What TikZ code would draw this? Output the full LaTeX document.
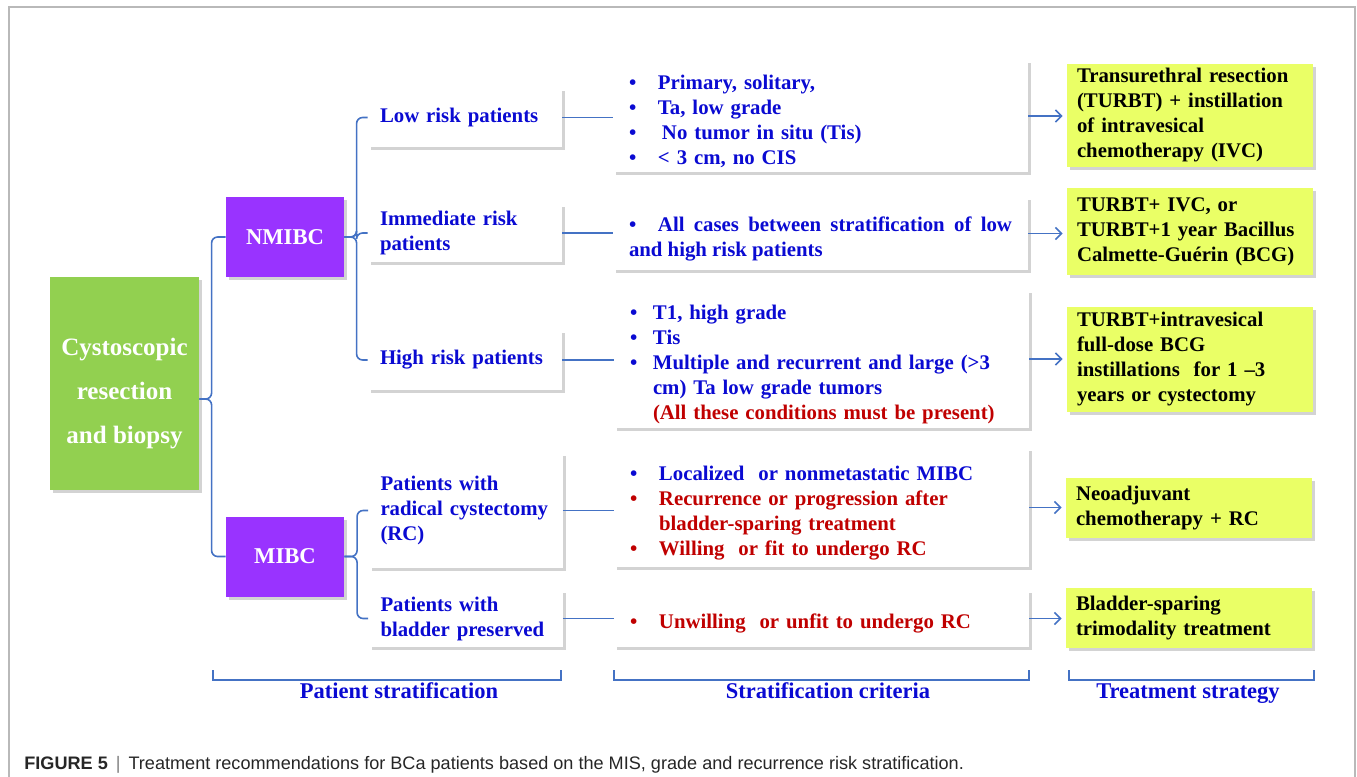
\documentclass[tikz,border=0pt]{standalone}
\usepackage{fontspec}
\setmainfont{Liberation Serif}
\newfontfamily\capfont{Liberation Sans}
\usetikzlibrary{arrows.meta,shadows}

\definecolor{rgreen}{RGB}{146,208,80}
\definecolor{rpurple}{RGB}{153,51,255}
\definecolor{ryellow}{RGB}{234,255,102}
\definecolor{tblue}{RGB}{10,10,210}
\definecolor{tred}{RGB}{192,0,0}
\definecolor{lblue}{RGB}{68,114,196}

% bullet line with hanging indent: [indent]{colour}{text}
\newcommand{\itm}[3][14.5pt]{\par\noindent\hangindent=#1\hangafter=1{\color{#2}\makebox[#1][l]{\textbullet}#3}}

\begin{document}
\begin{tikzpicture}[x=0.5pt,y=-0.5pt,
  every node/.style={font=\bfseries\fontsize{10.4}{12.5}\selectfont},
  boxshadow/.style={drop shadow={shadow xshift=1.5pt,shadow yshift=-1.5pt,opacity=0.35}},
  rootbox/.style={boxshadow,fill=rgreen,text=white,align=center,minimum width=74.5pt,minimum height=106.5pt,font=\bfseries\fontsize{12.5}{22}\selectfont},
  grpbox/.style={boxshadow,fill=rpurple,text=white,minimum width=59pt,minimum height=40pt,font=\bfseries\fontsize{11.3}{13}\selectfont},
  patbox/.style={boxshadow,fill=white,text=tblue,align=left,text width=85pt,inner xsep=6pt,inner ysep=2pt},
  critbox/.style={boxshadow,fill=white,align=left,text width=191.5pt,inner xsep=8pt,inner ysep=2pt},
  treatbox/.style={boxshadow,fill=ryellow,text=black,align=left,text width=113pt,inner xsep=5pt,inner ysep=2pt},
  brk/.style={draw=lblue,line width=0.8pt,rounded corners=3pt},
  lnk/.style={draw=lblue,line width=0.8pt},
  arr/.style={lnk,-{Straight Barb[length=3pt,width=6pt]},shorten >=2pt},
  lab/.style={text=tblue,font=\bfseries\fontsize{11.25}{13}\selectfont}]

\useasboundingbox (0,0) rectangle (1357,777);
\draw[gray!55,line width=0.6pt] (9,777) -- (9,7) -- (1355,7) -- (1355,777);

% first two levels
\node[rootbox] (root) at (124.5,383.5) {\rule{0pt}{19pt}Cystoscopic\\resection\\and biopsy};
\node[grpbox] (nmibc) at (285,237) {NMIBC};
\node[grpbox] (mibc) at (285,556.5) {MIBC};

% patient stratification
\node[patbox,minimum height=29.5pt] (low) at (465,117.5) {Low risk patients};
\node[patbox,minimum height=29pt] (imm) at (465,233) {Immediate risk\\patients};
\node[patbox,minimum height=30pt] (high) at (465,360) {High risk patients};
\node[patbox,minimum height=57.5pt] (rc) at (465.5,510.5) {Patients with\\radical cystectomy\\(RC)};
\node[patbox,minimum height=28.5pt] (bp) at (465.5,618.5) {Patients with\\bladder preserved};

% criteria
\node[critbox,minimum height=52pt] (clow) at (820.5,116) {\itm{tblue}{Primary, solitary,}\itm{tblue}{Ta, low grade}\itm{tblue}{\hspace{2pt}No tumor in situ (Tis)}\itm{tblue}{< 3 cm, no CIS}};
\node[critbox,minimum height=36.5pt,align=justify] (cimm) at (820.5,233.5) {\itm{tblue}{All cases between stratification of low and high risk patients}};
\node[critbox,minimum height=64pt] (chigh) at (821.5,359) {\itm[11.5pt]{tblue}{T1, high grade}\itm[11.5pt]{tblue}{Tis}\itm[11.5pt]{tblue}{Multiple and recurrent and large (>3\newline cm) Ta low grade tumors}\par\noindent\hspace*{11.5pt}\textcolor{tred}{(All these conditions must be present)}};
\node[critbox,minimum height=59.5pt] (crc) at (821.5,507.5) {\itm{tblue}{Localized\ \ or nonmetastatic MIBC}\itm{tred}{Recurrence or progression after\newline bladder-sparing treatment}\itm{tred}{Willing\ \ or fit to undergo RC}};
\node[critbox,minimum height=28.5pt] (cbp) at (821.5,618.5) {\itm{tred}{Unwilling\ \ or unfit to undergo RC}};

% treatment
\node[treatbox,minimum height=51.5pt] (tlow) at (1190,115.5) {Transurethral resection\\(TURBT) + instillation\\of intravesical\\chemotherapy (IVC)};
\node[treatbox,minimum height=43.5pt] (timm) at (1190,231.5) {TURBT+ IVC, or\\TURBT+1 year Bacillus\\Calmette-Guérin (BCG)};
\node[treatbox,minimum height=52.5pt] (thigh) at (1190,359.5) {TURBT+intravesical\\full-dose BCG\\instillations\ \ for 1 –3\\years or cystectomy};
\node[treatbox,minimum height=30pt] (trc) at (1189,508) {Neoadjuvant\\chemotherapy + RC};
\node[treatbox,minimum height=30pt] (tbp) at (1189,618) {Bladder-sparing\\trimodality treatment};

% brackets
\draw[brk] (nmibc.west) -- ++(-14,0) |- ([yshift=-7.75pt]root.east);
\draw[brk] (mibc.west) -- ++(-14,0) |- ([yshift=-7.75pt]root.east);
\draw[brk] (low.west) -- ++(-11,0) |- (nmibc.east);
\draw[brk] (imm.west) -- ++(-11,0) |- (nmibc.east);
\draw[brk] (high.west) -- ++(-11,0) |- (nmibc.east);
\draw[brk] (rc.west) -- ++(-11,0) |- (mibc.east);
\draw[brk] (bp.west) -- ++(-11,0) |- (mibc.east);

% links and arrows
\draw[lnk] (low.east) -- (clow.west |- low.east);
\draw[lnk] (imm.east) -- (cimm.west |- imm.east);
\draw[lnk] (high.east) -- (chigh.west |- high.east);
\draw[lnk] (rc.east) -- (crc.west |- rc.east);
\draw[lnk] (bp.east) -- (cbp.west |- bp.east);
\draw[arr] (clow.east) -- (tlow.west |- clow.east);
\draw[arr] (cimm.east) -- (timm.west |- cimm.east);
\draw[arr] (chigh.east) -- (thigh.west |- chigh.east);
\draw[arr] (crc.east) -- (trc.west |- crc.east);
\draw[arr] (cbp.east) -- (tbp.west |- cbp.east);

% column labels
\draw[lnk] (213,670) -- (213,680) -- (561,680) -- (561,670);
\draw[lnk] (614,670) -- (614,680) -- (1029,680) -- (1029,670);
\draw[lnk] (1069,670) -- (1069,680) -- (1314,680) -- (1314,670);
\node[lab,anchor=base] (labpat) at (399,698) {Patient stratification};
\node[lab,anchor=base] (labcrit) at (828,698) {Stratification criteria};
\node[lab,anchor=base] (labtreat) at (1188,698) {Treatment strategy};

\node[anchor=base west,inner sep=0pt,text=black!85,font=\capfont\fontsize{9.05}{11}\selectfont] (caption) at (24,769) {\textbf{FIGURE 5}\hspace{4pt}{\color{gray}|}\hspace{4pt}Treatment recommendations for BCa patients based on the MIS, grade and recurrence risk stratification.};
\end{tikzpicture}
\end{document}
